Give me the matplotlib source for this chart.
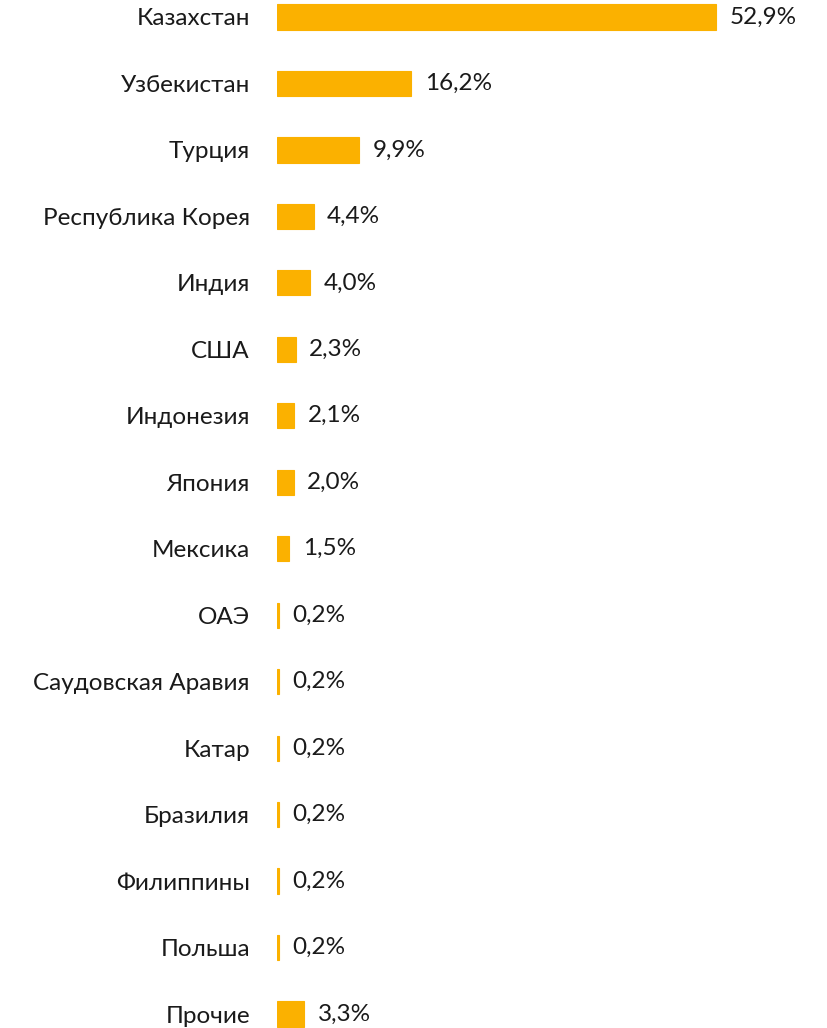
import matplotlib
matplotlib.use("Agg")
import matplotlib.pyplot as plt

# Доли стран (%)
countries = ["Казахстан", "Узбекистан", "Турция", "Республика Корея", "Индия",
             "США", "Индонезия", "Япония", "Мексика", "ОАЭ", "Саудовская Аравия",
             "Катар", "Бразилия", "Филиппины", "Польша", "Прочие"]
shares = [52.9, 16.2, 9.9, 4.4, 4.0, 2.3, 2.1, 2.0, 1.5, 0.2, 0.2, 0.2, 0.2, 0.2, 0.2, 3.3]

BAR_COLOR = "#FBB100"

plt.rcParams['font.family'] = ['Lato', 'DejaVu Sans']

fig = plt.figure(figsize=(8.28, 10.28), dpi=100)
ax = fig.add_axes([277 / 828, 0, 498 / 828, 1])

ypos = list(range(len(countries)))
ax.barh(ypos, shares, height=0.38, color=BAR_COLOR, edgecolor=BAR_COLOR, linewidth=0.8)

ax.set_xlim(0, 60)
ax.set_ylim(15 + 14 / 66.47, -17 / 66.47)

ax.set_yticks(ypos)
ax.set_yticklabels(countries, fontsize=17.5, color="#1a1a1a")
ax.tick_params(axis="y", length=0, pad=19.5)
ax.set_xticks([])
for s in ax.spines.values():
    s.set_visible(False)

# подписи значений
for y, v in zip(ypos, shares):
    label = f"{v:.1f}%".replace(".", ",")
    ax.annotate(label, xy=(v, y), xytext=(9.5, 0), textcoords="offset points",
                va="center", ha="left", fontsize=17.5, color="#1a1a1a",
                annotation_clip=False)

fig.savefig("out.png", dpi=100)
